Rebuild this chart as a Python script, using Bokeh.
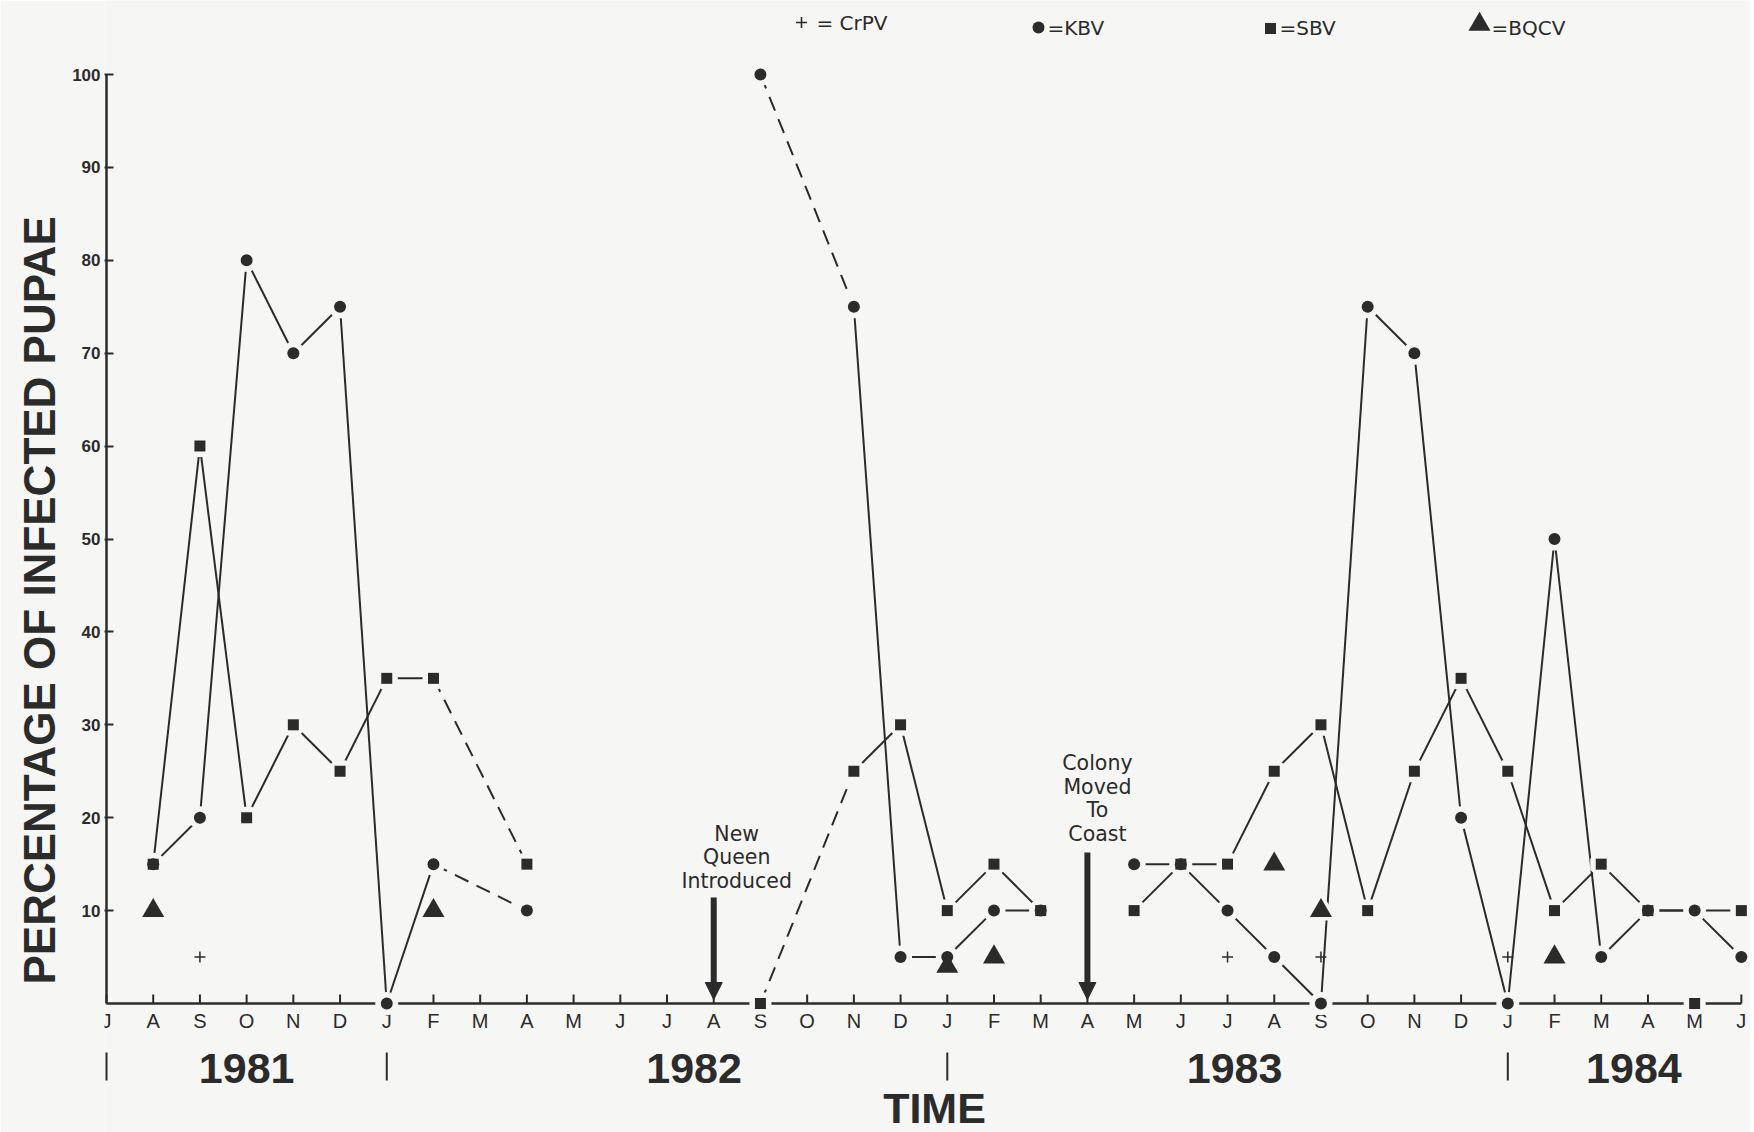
from bokeh.plotting import figure
from bokeh.models import Range1d, FixedTicker, Title, Arrow, NormalHead
from bokeh.core.properties import value
from bokeh.embed import file_html
from bokeh.resources import INLINE

# ---------------- data ----------------
# months from Jul 1981 (index 0) to Jun 1984 (index 35)
month_letters = ["J", "A", "S", "O", "N", "D",
                 "J", "F", "M", "A", "M", "J", "J", "A", "S", "O", "N", "D",
                 "J", "F", "M", "A", "M", "J", "J", "A", "S", "O", "N", "D",
                 "J", "F", "M", "A", "M", "J"]
months = list(range(len(month_letters)))

year_labels = ["1981", "1982", "1983", "1984"]
year_starts = [0, 6, 18, 30]
year_label_pos = [3.0, 12.58, 24.15, 32.7]

y_ticks = [10, 20, 30, 40, 50, 60, 70, 80, 90, 100]

N = None
kbv = [N, 15, 20, 80, 70, 75, 0, 15, N, 10, N, N,
       N, N, 100, N, 75, 5, 5, 10, 10, N, 15, 15,
       10, 5, 0, 75, 70, 20, 0, 50, 5, 10, 10, 5]
sbv = [N, 15, 60, 20, 30, 25, 35, 35, N, 15, N, N,
       N, N, 0, N, 25, 30, 10, 15, 10, N, 10, 15,
       15, 25, 30, 10, 25, 35, 25, 10, 15, 10, 0, 10]
crpv_months = [2, 24, 26, 30]
crpv = [5, 5, 5, 5]
bqcv_months = [1, 7, 18, 19, 25, 26, 31]
bqcv = [10, 10, 4, 5, 15, 10, 5]

# sampling periods (first, last month); points are joined only inside a period
periods = [(1, 9), (14, 20), (22, 35)]
sbv_unlinked = [34]

event_months = [13, 21]
event_lines = [["New", "Queen", "Introduced"], ["Colony", "Moved", "To", "Coast"]]

legend_labels = ["= CrPV", "=KBV", "=SBV", "=BQCV"]

# ---------------- layout helpers ----------------
SX0, DX = 106.0, 46.71     # screen px of month 0, px per month
SY0, DY = 1003.0, 9.29     # screen px of value 0, px per unit
def px2x(px):
    return (px - SX0) / DX
def px2y(py):
    return (SY0 - py) / DY

W, H = 1750, 1132
LEFT = 104
INK = "#2b2b2b"
BG = "#f6f6f4"
SANS = "Liberation Sans"

p = figure(width=W, height=H,
           x_range=Range1d(px2x(LEFT), px2x(W)),
           y_range=Range1d(px2y(H), px2y(0)),
           output_backend="svg", toolbar_location=None, x_axis_location=None,
           min_border_left=LEFT, min_border_right=0, min_border_top=0, min_border_bottom=0)
p.background_fill_color = BG
p.border_fill_color = BG
p.outline_line_color = None
p.xgrid.visible = False
p.ygrid.visible = False

ya = p.yaxis[0]
ya.ticker = FixedTicker(ticks=y_ticks)
ya.axis_line_color = None
ya.major_tick_in = 9
ya.major_tick_out = 0
ya.minor_tick_line_color = None
ya.major_tick_line_width = 2
ya.major_tick_line_color = INK
ya.major_label_text_font = SANS
ya.major_label_text_font_size = "17px"
ya.major_label_text_font_style = "bold"
ya.major_label_text_color = INK
ya.major_label_standoff = 4

p.add_layout(Title(text="PERCENTAGE OF INFECTED PUPAE", align="left", offset=148,
                   standoff=12, text_font=SANS, text_font_size="44px",
                   text_font_style="bold", text_color=INK), "left")

# axes lines and ticks
p.segment(x0=[months[0]], y0=[0], x1=[months[0]], y1=[y_ticks[-1]], line_color=INK, line_width=2.5)
p.segment(x0=[months[0]], y0=[0], x1=[months[-1]], y1=[0], line_color=INK, line_width=2.5)
tick_len = 9 / DY
p.segment(x0=months, y0=[0] * len(months), x1=months, y1=[tick_len] * len(months),
          line_color=INK, line_width=2)
p.text(x=months, y=[px2y(1020)] * len(months), text=month_letters,
       text_align="center", text_baseline="middle",
       text_font=value(SANS), text_font_size=value("20px"), text_color=INK)

# years
p.text(x=year_label_pos, y=[px2y(1068)] * len(year_labels), text=year_labels,
       text_align="center", text_baseline="middle",
       text_font=value(SANS), text_font_size=value("43px"),
       text_font_style="bold", text_color=INK)
p.segment(x0=year_starts, y0=[px2y(1052)] * 4, x1=year_starts, y1=[px2y(1080)] * 4,
          line_color=INK, line_width=2)
p.text(x=[px2x(934)], y=[px2y(1107)], text=["TIME"], text_align="center",
       text_baseline="middle", text_font=value(SANS),
       text_font_size=value("43px"), text_font_style="bold", text_color=INK)

# ---------------- series lines ----------------
def links(vals, skip=()):
    solid, dashed = [], []
    for a, b in periods:
        pts = [(m, vals[m]) for m in range(a, b + 1) if vals[m] is not None and m not in skip]
        for (m0, v0), (m1, v1) in zip(pts, pts[1:]):
            gap = all(vals[m] is None for m in range(m0 + 1, m1))
            (dashed if (m1 - m0 > 1 and gap) else solid).append((m0, v0, m1, v1))
    return solid, dashed

def draw_links(lst, dash):
    if not lst:
        return
    x0, y0, x1, y1 = zip(*lst)
    p.segment(x0=list(x0), y0=list(y0), x1=list(x1), y1=list(y1),
              line_color=INK, line_width=2, line_dash=dash)

for vals, skip in ((kbv, ()), (sbv, sbv_unlinked)):
    s, d = links(vals, skip)
    draw_links(s, "solid")
    draw_links(d, "15 9")

def pts(vals):
    xs = [m for m, v in enumerate(vals) if v is not None]
    return xs, [vals[m] for m in xs]

kx, ky = pts(kbv)
sx, sy = pts(sbv)

# halos (gaps of the lines around the markers)
p.scatter(sx, sy, marker="square", size=11, fill_color=BG, line_color=BG, line_width=11)
p.scatter(kx, ky, marker="circle", size=12, fill_color=BG, line_color=BG, line_width=11)
p.scatter(bqcv_months, bqcv, marker="triangle", size=22, fill_color=BG, line_color=BG, line_width=7)

# markers
p.scatter(sx, sy, marker="square", size=11, fill_color=INK, line_color=None)
p.scatter(kx, ky, marker="circle", size=12, fill_color=INK, line_color=None)
p.scatter(bqcv_months, bqcv, marker="triangle", size=22, fill_color=INK, line_color=None)
p.scatter(crpv_months, crpv, marker="cross", size=11, line_color=INK, line_width=1.5)

# ---------------- events ----------------
ev_dx_px = [23, 10]
ev_last_center_px = [880, 833]
ev_arrow_top_px = [897, 852]
LINE_PITCH = 23.4
for m, lines, dx, base, top in zip(event_months, event_lines, ev_dx_px, ev_last_center_px, ev_arrow_top_px):
    n = len(lines)
    ys = [px2y(base - (n - 1 - i) * LINE_PITCH) for i in range(n)]
    p.text(x=[m + dx / DX] * n, y=ys, text=lines, text_align="center", text_baseline="middle",
           text_font=value("DejaVu Sans"), text_font_size=value("20.5px"), text_color=INK)
    p.add_layout(Arrow(end=NormalHead(size=17, fill_color=INK, line_color=INK, line_width=1),
                       x_start=m, y_start=px2y(top), x_end=m, y_end=px2y(999),
                       line_color=INK, line_width=6))

# ---------------- legend (top row) ----------------
lg_mx = [px2x(801), px2x(1038), px2x(1270), px2x(1479)]
lg_my = [px2y(22), px2y(27), px2y(28), px2y(24)]
lg_tx = [px2x(816), px2x(1047), px2x(1279), px2x(1491)]
lg_ty = [px2y(22), px2y(27), px2y(27), px2y(27)]
p.scatter([lg_mx[0]], [lg_my[0]], marker="cross", size=11, line_color=INK, line_width=1.6)
p.scatter([lg_mx[1]], [lg_my[1]], marker="circle", size=12, fill_color=INK, line_color=None)
p.scatter([lg_mx[2]], [lg_my[2]], marker="square", size=11, fill_color=INK, line_color=None)
p.scatter([lg_mx[3]], [lg_my[3]], marker="triangle", size=22, fill_color=INK, line_color=None)
p.text(x=lg_tx, y=lg_ty, text=legend_labels, text_align="left", text_baseline="middle",
       text_font=value("DejaVu Sans"), text_font_size=value("20px"), text_color=INK)

open("out.html", "w").write(file_html(p, INLINE))
